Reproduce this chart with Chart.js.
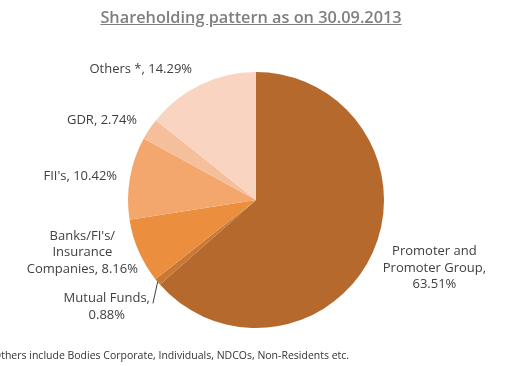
<!DOCTYPE html>
<html lang="en">
<head>
<meta charset="UTF-8">
<title>Shareholding pattern as on 30.09.2013</title>
<script src="https://cdn.jsdelivr.net/npm/chart.js"></script>
<style>
    body { margin: 0; background: #fff; overflow: hidden; }
    .wrap { position: relative; width: 510px; height: 366px; }
    canvas { position: absolute; left: 0; top: 0; }
    .title {
        position: absolute; top: 6px; left: 0; width: 502px;
        text-align: center; font-family: 'Open Sans', sans-serif;
        font-size: 16.3px; font-weight: 600; color: #7f7f7f;
        text-decoration: underline;
    }
    .note {
        position: absolute; left: -7px; top: 348px; white-space: nowrap;
        font-family: 'Open Sans', sans-serif; font-size: 10.5px; color: #333;
    }
</style>
</head>
<body>
<div class="wrap">
    <canvas id="pie" width="510" height="366"></canvas>
    <div class="title">Shareholding pattern as on 30.09.2013</div>
    <div class="note">Others include Bodies Corporate, Individuals, NDCOs, Non-Residents etc.</div>
</div>
<script>
    // data
    var categories = ['Promoter and\nPromoter Group', 'Mutual Funds', "Banks/FI's/\nInsurance\nCompanies", "FII's", 'GDR', 'Others *'];
    var shares = [63.51, 0.88, 8.16, 10.42, 2.74, 14.29];
    var valueOnNewLine = [true, true, false, false, false, false];
    var colors = ['#b5692d', '#c97935', '#eb8f3f', '#f4a76c', '#f6bf9c', '#f9d5c1'];

    // label nudges (px) after placing them outside the arc
    var nudges = [[1, 1], [0, 8], [8.5, -12.5], [-3, 2], [-4, 1], [-4, 1]];

    var outsideLabels = {
        id: 'outsideLabels',
        afterDraw: function(chart) {
            var ctx = chart.ctx;
            var arcs = chart.getDatasetMeta(0).data;
            ctx.save();
            ctx.font = '13px "Open Sans"';
            ctx.fillStyle = '#404040';
            ctx.textAlign = 'center';
            ctx.textBaseline = 'middle';
            var lh = 16.5;
            arcs.forEach(function(arc, i) {
                var p = arc.getProps(['x', 'y', 'startAngle', 'endAngle', 'outerRadius'], true);
                var mid = (p.startAngle + p.endAngle) / 2;
                var cos = Math.cos(mid), sin = Math.sin(mid);
                var r = p.outerRadius + 10;
                var text = categories[i] + ',' + (valueOnNewLine[i] ? '\n' : ' ') + shares[i].toFixed(2) + '%';
                var lines = text.split('\n');
                var bh = lines.length * lh;
                var bw = Math.max.apply(null, lines.map(function(l) { return ctx.measureText(l).width; }));
                var ax = p.x + cos * r + nudges[i][0];
                var ay = p.y + sin * r + sin * bh / 2 + nudges[i][1];
                var cx = cos >= 0 ? ax + bw / 2 : ax - bw / 2;
                lines.forEach(function(l, k) {
                    ctx.fillText(l, cx, ay - bh / 2 + lh * (k + 0.5));
                });
                if (i === 1) {
                    // leader line for the thin slice
                    ctx.strokeStyle = '#404040';
                    ctx.lineWidth = 1;
                    ctx.beginPath();
                    ctx.moveTo(p.x + cos * p.outerRadius, p.y + sin * p.outerRadius);
                    ctx.lineTo(ax + 3, ay - bh / 2 + 13);
                    ctx.stroke();
                }
            });
            ctx.restore();
        }
    };

    var ctx = document.getElementById('pie').getContext('2d');
    var chart = new Chart(ctx, {
        type: 'pie',
        data: {
            labels: categories,
            datasets: [{
                data: shares,
                backgroundColor: colors,
                borderWidth: 0,
                hoverOffset: 0
            }]
        },
        options: {
            responsive: false,
            animation: false,
            layout: { padding: { left: 128, right: 126, top: 72, bottom: 38 } },
            plugins: {
                legend: { display: false },
                tooltip: { enabled: false }
            }
        },
        plugins: [outsideLabels]
    });
</script>
</body>
</html>
